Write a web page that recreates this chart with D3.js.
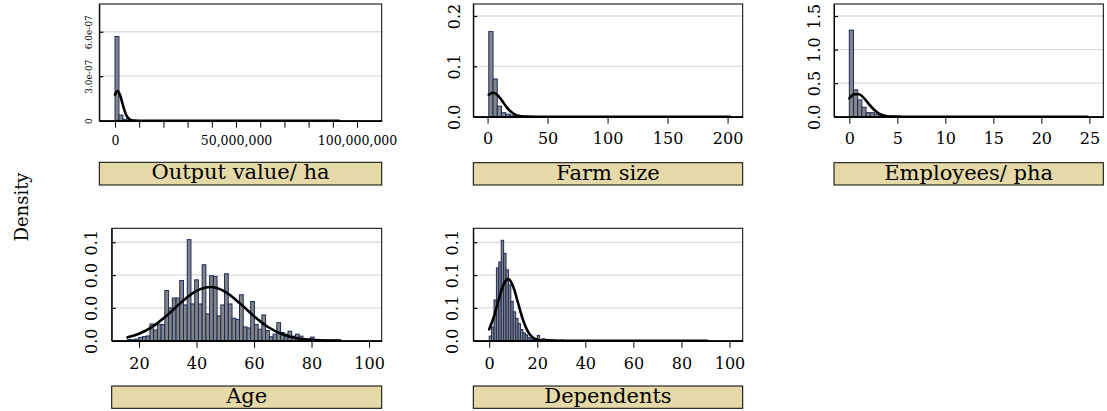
<!DOCTYPE html>
<html><head><meta charset="utf-8">
<script src="https://cdn.jsdelivr.net/npm/d3@7"></script>
<style>
body{margin:0;background:#fff}
svg{display:block}
</style>
</head><body>
<svg id="chart" width="1107" height="411"></svg>
<script>
// ---------------- DATA ----------------
// Output value / ha
const outputBinStart = 0;
const outputBinWidth = 1.63e6;
const outputDensity = [5.68e-7, 3.8e-8, 1.0e-8, 4e-9, 2e-9, 1e-9, 1e-9];
const outputCurveX = [0, 1e6, 2e6, 3e6, 4e6, 5e6, 6e6, 7e6, 8e6, 10e6, 92.5e6];
const outputCurveY = [1.76e-7, 2.0e-7, 1.76e-7, 1.21e-7, 6.5e-8, 2.7e-8, 8.8e-9, 2.2e-9, 4e-10, 0, 0];
const outputXTicks = [0, 1e7, 2e7, 3e7, 4e7, 5e7, 6e7, 7e7, 8e7, 9e7, 1e8];
const outputXLabels = ["0", "", "", "", "", "50,000,000", "", "", "", "", "100,000,000"];
const outputYTicks = [0, 3e-7, 6e-7];
const outputYLabels = ["0", "3.0e-07", "6.0e-07"];
const outputXDomain = [-6.49e6, 110.2e6];
const outputYDomain = [0, 7.87e-7];

// Farm size
const farmBinStart = 1;
const farmBinWidth = 3.53;
const farmDensity = [0.169, 0.075, 0.021, 0.008, 0.005, 0.003, 0.002, 0.001, 0.001, 0.0005, 0.0005, 0.0003, 0.0003];
const farmCurveX = [1, 4.5, 8, 12, 16, 20, 24, 28, 32, 40, 202];
const farmCurveY = [0.0436, 0.0475, 0.0436, 0.0319, 0.0186, 0.0087, 0.0032, 0.00095, 0.0002, 0, 0];
const farmXTicks = [0, 50, 100, 150, 200];
const farmXLabels = ["0", "50", "100", "150", "200"];
const farmYTicks = [0, 0.1, 0.2];
const farmYLabels = ["0.0", "0.1", "0.2"];
const farmXDomain = [-11.9, 212.6];
const farmYDomain = [0, 0.2238];

// Employees / pha
const empBinStart = 0;
const empBinWidth = 0.436;
const empDensity = [1.29, 0.40, 0.25, 0.14, 0.06, 0.06, 0.04, 0.025, 0.012, 0.01, 0.005, 0.004, 0.003, 0.002];
const empCurveX = [0, 0.5, 1, 1.5, 2, 2.5, 3, 3.5, 4, 4.5, 5, 6, 24.8];
const empCurveY = [0.274, 0.332, 0.334, 0.281, 0.196, 0.114, 0.0554, 0.0224, 0.0075, 0.0021, 0.0005, 0, 0];
const empXTicks = [0, 5, 10, 15, 20, 25];
const empXLabels = ["0", "5", "10", "15", "20", "25"];
const empYTicks = [0, 0.5, 1.0, 1.5];
const empYLabels = ["0.0", "0.5", "1.0", "1.5"];
const empXDomain = [-1.594, 26.45];
const empYDomain = [0, 1.679];

// Age
const ageBinStart = 16;
const ageBinWidth = 1.298;
const ageDensity = [0.0008, 0.0006, 0.0010, 0.0020, 0.0025, 0.0029, 0.0102, 0.0065, 0.0100, 0.0098,
  0.0306, 0.0200, 0.0260, 0.0260, 0.0367, 0.0218, 0.0616, 0.0224, 0.0371, 0.0224,
  0.0463, 0.0163, 0.0396, 0.0392, 0.0151, 0.0218, 0.0408, 0.0224, 0.0137, 0.0130,
  0.0280, 0.0084, 0.0078, 0.0239, 0.0100, 0.0070, 0.0157, 0.0062, 0.0024, 0.0040,
  0.0110, 0.0050, 0.0040, 0.0058, 0.0028, 0.0040, 0.0028, 0.0012, 0.0010, 0.0022,
  0.0005, 0.0005, 0.0004, 0.0004, 0.0003, 0.0003, 0.0003];
const ageCurveX = [16, 20, 25, 30, 35, 40, 45, 50, 55, 60, 65, 70, 75, 80, 85, 90];
const ageCurveY = [0.00206, 0.00421, 0.00888, 0.01582, 0.02384, 0.03036, 0.0327, 0.02976, 0.0229, 0.0149, 0.00819, 0.00381, 0.00149, 0.0005, 0.00014, 0.00003];
const ageXTicks = [20, 40, 60, 80, 100];
const ageXLabels = ["20", "40", "60", "80", "100"];
const ageYTicks = [0, 0.02, 0.04, 0.06];
const ageYLabels = ["0.0", "0.0", "0.0", "0.1"];
const ageXDomain = [10.5, 104.4];
const ageYDomain = [0, 0.0685];

// Dependents
const depBinStart = 0;
const depBinWidth = 1;
const depDensity = [0.007, 0.021, 0.062, 0.111, 0.120, 0.153, 0.133, 0.108, 0.085, 0.060,
  0.044, 0.034, 0.026, 0.017, 0.012, 0.009, 0.005, 0.003, 0.002, 0.001,
  0.008, 0.001, 0.003, 0.002, 0.002, 0.001, 0.001, 0.001, 0.0005, 0.0005, 0.001];
const depCurveX = [0, 2, 4, 6, 8, 10, 12, 14, 16, 18, 20, 22, 25, 30, 90.7];
const depCurveY = [0.0174, 0.037, 0.0629, 0.0858, 0.0938, 0.0821, 0.0576, 0.0324, 0.0146, 0.0053, 0.0015, 0.00035, 0.00007, 0, 0];
const depXTicks = [0, 20, 40, 60, 80, 100];
const depXLabels = ["0", "20", "40", "60", "80", "100"];
const depYTicks = [0, 0.05, 0.10, 0.15];
const depYLabels = ["0.0", "0.1", "0.1", "0.1"];
const depXDomain = [-6.62, 105.5];
const depYDomain = [0, 0.1713];

const titles = ["Output value/ ha", "Farm size", "Employees/ pha", "Age", "Dependents"];
const yAxisTitle = "Density";

// ---------------- LAYOUT ----------------
const FONT = "'DejaVu Serif', serif";
const layout = [
  {left: 99.3, right: 381.7, top: 4, bottom: 120.7, boxTop: 162.3, boxBottom: 185, xFont: 12.5, yFont: 9, yOff: 7, xPad: 8.5},
  {left: 473.3, right: 742.7, top: 4, bottom: 116.7, boxTop: 162.7, boxBottom: 185, xFont: 16, yFont: 16, yOff: 13, xPad: 9},
  {left: 834, right: 1103.3, top: 4, bottom: 116.7, boxTop: 162.7, boxBottom: 185, xFont: 16, yFont: 16, yOff: 14, xPad: 9},
  {left: 111.7, right: 381.7, top: 228.3, bottom: 340.7, boxTop: 386, boxBottom: 408.3, xFont: 16, yFont: 16, yOff: 14.5, xPad: 9.5},
  {left: 473.3, right: 742.7, top: 228.3, bottom: 340.7, boxTop: 386, boxBottom: 408.3, xFont: 16, yFont: 16, yOff: 15, xPad: 9.5}
];

const panels = [
  {start: outputBinStart, width: outputBinWidth, dens: outputDensity, cx: outputCurveX, cy: outputCurveY,
   xt: outputXTicks, xl: outputXLabels, yt: outputYTicks, yl: outputYLabels, xd: outputXDomain, yd: outputYDomain},
  {start: farmBinStart, width: farmBinWidth, dens: farmDensity, cx: farmCurveX, cy: farmCurveY,
   xt: farmXTicks, xl: farmXLabels, yt: farmYTicks, yl: farmYLabels, xd: farmXDomain, yd: farmYDomain},
  {start: empBinStart, width: empBinWidth, dens: empDensity, cx: empCurveX, cy: empCurveY,
   xt: empXTicks, xl: empXLabels, yt: empYTicks, yl: empYLabels, xd: empXDomain, yd: empYDomain},
  {start: ageBinStart, width: ageBinWidth, dens: ageDensity, cx: ageCurveX, cy: ageCurveY,
   xt: ageXTicks, xl: ageXLabels, yt: ageYTicks, yl: ageYLabels, xd: ageXDomain, yd: ageYDomain},
  {start: depBinStart, width: depBinWidth, dens: depDensity, cx: depCurveX, cy: depCurveY,
   xt: depXTicks, xl: depXLabels, yt: depYTicks, yl: depYLabels, xd: depXDomain, yd: depYDomain}
];

const svg = d3.select("#chart");
svg.append("rect").attr("width", 1107).attr("height", 411).attr("fill", "#fff");

panels.forEach((p, i) => {
  const L = layout[i];
  const x = d3.scaleLinear().domain(p.xd).range([L.left, L.right]);
  const y = d3.scaleLinear().domain(p.yd).range([L.bottom, L.top]);
  const g = svg.append("g");

  // gridlines
  g.append("g").selectAll("line").data(p.yt.filter(t => t > 0)).join("line")
    .attr("x1", L.left).attr("x2", L.right)
    .attr("y1", d => y(d)).attr("y2", d => y(d))
    .attr("stroke", "#dcdcdc").attr("stroke-width", 1.3);

  // bars
  const bins = p.dens.map((d, k) => ({x0: p.start + k * p.width, x1: p.start + (k + 1) * p.width, d}));
  g.append("g").selectAll("rect").data(bins.filter(b => b.d > 0)).join("rect")
    .attr("x", b => x(b.x0)).attr("width", b => x(b.x1) - x(b.x0))
    .attr("y", b => y(b.d)).attr("height", b => y(0) - y(b.d))
    .attr("fill", "#858585").attr("stroke", "#1d2b5b").attr("stroke-width", 1);

  // normal curve
  const pts = p.cx.map((v, k) => [v, p.cy[k]]);
  g.append("path").datum(pts)
    .attr("d", d3.line().x(d => x(d[0])).y(d => y(d[1])).curve(d3.curveMonotoneX))
    .attr("fill", "none").attr("stroke", "#000").attr("stroke-width", 2.6)
    .attr("stroke-linejoin", "round").attr("stroke-linecap", "round");

  // frame
  g.append("rect").attr("x", L.left).attr("y", L.top)
    .attr("width", L.right - L.left).attr("height", L.bottom - L.top)
    .attr("fill", "none").attr("stroke", "#000").attr("stroke-width", 1);

  // x axis
  const xa = g.append("g").attr("transform", `translate(0,${L.bottom})`)
    .call(d3.axisBottom(x).tickValues(p.xt).tickSize(7).tickSizeOuter(0).tickPadding(L.xPad)
      .tickFormat((d, k) => p.xl[k]));
  xa.attr("font-family", FONT).attr("font-size", L.xFont);
  xa.select(".domain").attr("stroke", "#000").attr("stroke-width", 1.6);
  xa.selectAll(".tick line").attr("stroke", "#000").attr("stroke-width", 1);
  xa.selectAll("text").attr("fill", "#000");

  // y axis
  const ya = g.append("g").attr("transform", `translate(${L.left},0)`)
    .call(d3.axisLeft(y).tickValues(p.yt).tickSize(-4).tickSizeOuter(0)
      .tickFormat((d, k) => p.yl[k]));
  ya.attr("font-family", FONT).attr("font-size", L.yFont);
  ya.select(".domain").attr("stroke", "#000").attr("stroke-width", 1);
  ya.selectAll(".tick line").attr("stroke", "#000").attr("stroke-width", 1.2);
  ya.selectAll("text").attr("fill", "#000").attr("x", null).attr("dy", null)
    .attr("text-anchor", "middle")
    .attr("transform", `translate(${-L.yOff},0) rotate(-90)`);

  // title band
  g.append("rect").attr("x", L.left).attr("y", L.boxTop)
    .attr("width", L.right - L.left).attr("height", L.boxBottom - L.boxTop)
    .attr("fill", "#e6d9a8").attr("stroke", "#000").attr("stroke-width", 1);
  g.append("text").attr("x", (L.left + L.right) / 2).attr("y", L.boxTop + 17)
    .attr("text-anchor", "middle").attr("font-family", FONT).attr("font-size", 21)
    .attr("fill", "#000").text(titles[i]);
});

svg.append("text").attr("transform", "translate(28,207) rotate(-90)")
  .attr("text-anchor", "middle").attr("font-family", FONT).attr("font-size", 18)
  .attr("fill", "#000").text(yAxisTitle);
</script>
</body></html>
